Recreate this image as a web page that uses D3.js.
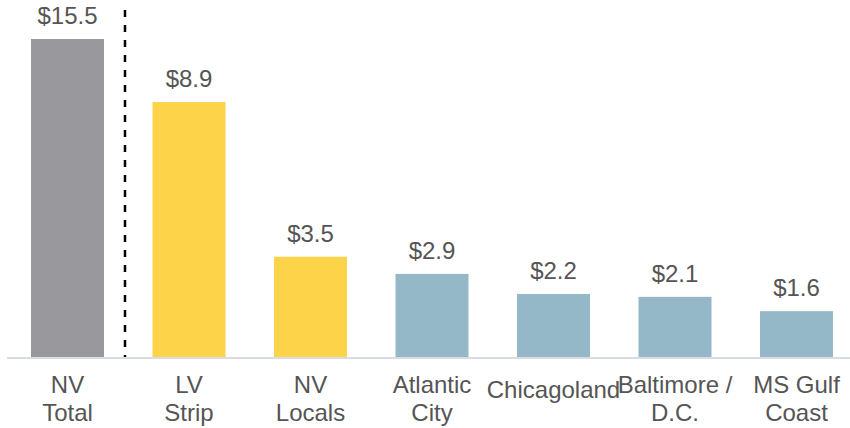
<!DOCTYPE html>
<html>
<head>
<meta charset="utf-8">
<script src="https://cdn.jsdelivr.net/npm/d3@7"></script>
<style>
  html, body { margin: 0; padding: 0; background: #fff; }
  svg { display: block; }
  text { font-family: "Liberation Sans", Arial, sans-serif; fill: #555555; }
</style>
</head>
<body>
<div id="chart"></div>
<script>
// Gaming revenue by market ($B) - NV total bar is clipped at top of scale
const categories = [
    ['NV', 'Total'],
    ['LV', 'Strip'],
    ['NV', 'Locals'],
    ['Atlantic', 'City'],
    ['Chicagoland'],
    ['Baltimore /', 'D.C.'],
    ['MS Gulf', 'Coast']
];
const values = [15.5, 8.9, 3.5, 2.9, 2.2, 2.1, 1.6];
const groups = ['total', 'nv', 'nv', 'other', 'other', 'other', 'other'];

const colors = { total: '#98989d', nv: '#fdd34a', other: '#94b8c8' };

const width = 850, height = 428;
const baseY = 357;

const svg = d3.select('#chart')
    .append('svg')
    .attr('width', width)
    .attr('height', height);

const keys = categories.map(c => c.join(' '));

// bars 73px wide on a 121.5px step, first bar starting at x=31
const step = 121.5, barW = 73, x0 = 31;
const x = d3.scaleBand()
    .domain(keys)
    .range([x0, x0 + step * keys.length - (step - barW)])
    .paddingInner((step - barW) / step)
    .paddingOuter(0);

// scale tops out at ~11.1 so the NV total bar is clamped
const y = d3.scaleLinear()
    .domain([0, 11.1])
    .range([baseY, 39])
    .clamp(true);

svg.append('g')
    .selectAll('rect')
    .data(values)
    .join('rect')
    .attr('x', (d, i) => x(keys[i]))
    .attr('width', x.bandwidth())
    .attr('y', d => y(d))
    .attr('height', d => baseY - y(d))
    .attr('fill', (d, i) => colors[groups[i]]);

// baseline
svg.append('line')
    .attr('x1', 7).attr('x2', width)
    .attr('y1', baseY + 1).attr('y2', baseY + 1)
    .attr('stroke', '#d9dde3')
    .attr('stroke-width', 2);

// divider between total and segments
const divX = Math.round((x(keys[0]) + x.bandwidth() + x(keys[1])) / 2) - 3;
svg.append('line')
    .attr('x1', divX).attr('x2', divX)
    .attr('y1', 10).attr('y2', baseY)
    .attr('stroke', '#000')
    .attr('stroke-width', 2.5)
    .attr('stroke-dasharray', '7,8');

// value labels
svg.append('g')
    .selectAll('text')
    .data(values)
    .join('text')
    .attr('x', (d, i) => x(keys[i]) + x.bandwidth() / 2)
    .attr('y', d => y(d) - 15)
    .attr('text-anchor', 'middle')
    .attr('font-size', 24)
    .text(d => '$' + d.toFixed(1));

// category labels
const lab = svg.append('g')
    .selectAll('text')
    .data(categories)
    .join('text')
    .attr('x', (d, i) => x(keys[i]) + x.bandwidth() / 2)
    .attr('y', d => d.length === 1 ? 398 : 393)
    .attr('text-anchor', 'middle')
    .attr('font-size', 24);

lab.selectAll('tspan')
    .data(d => d)
    .join('tspan')
    .attr('x', function () { return this.parentNode.getAttribute('x'); })
    .attr('dy', (d, i) => i === 0 ? 0 : 28)
    .text(d => d);
</script>
</body>
</html>
